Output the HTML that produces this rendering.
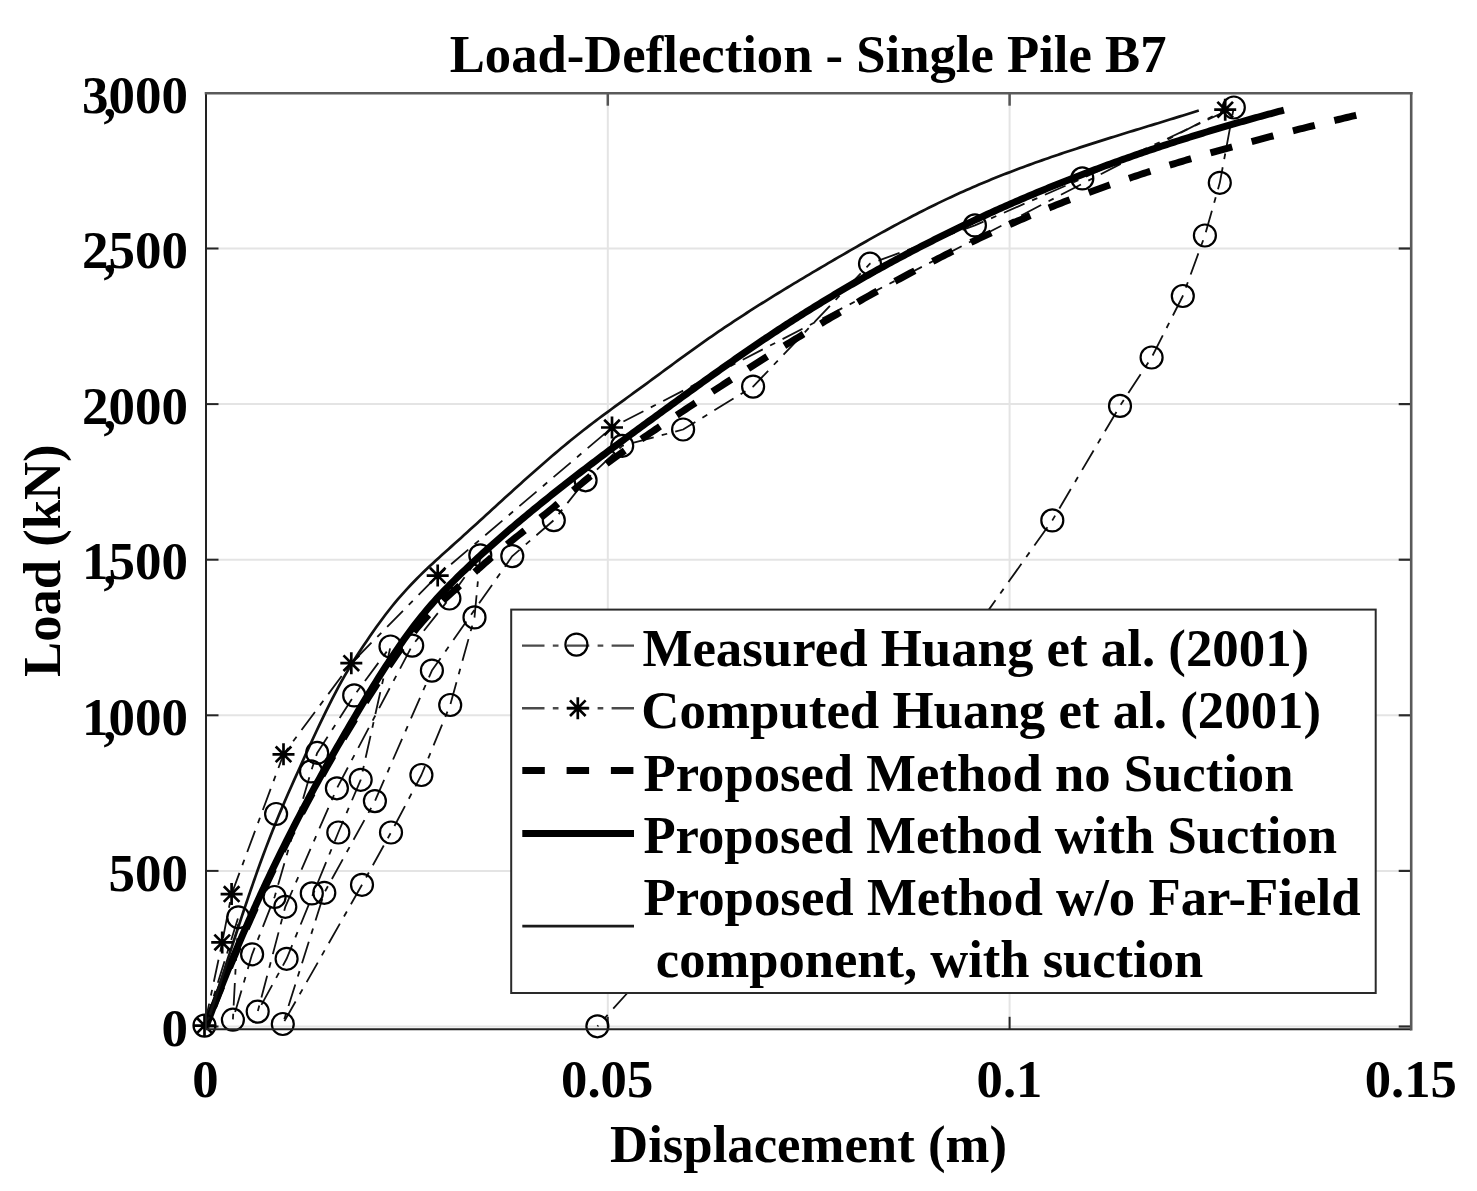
<!DOCTYPE html><html><head><meta charset="utf-8"><style>html,body{margin:0;padding:0;background:#fff}svg{display:block}text{font-family:"Liberation Serif",serif;font-weight:bold}</style></head><body><svg width="1477" height="1191" viewBox="0 0 1477 1191" font-family="Liberation Serif" font-weight="bold">
<rect width="1477" height="1191" fill="#fff"/>
<line x1="607.80" y1="93.2" x2="607.80" y2="1029.3" stroke="#e4e4e4" stroke-width="2"/>
<line x1="1009.60" y1="93.2" x2="1009.60" y2="1029.3" stroke="#e4e4e4" stroke-width="2"/>
<line x1="206.0" y1="1026.50" x2="1411.2" y2="1026.50" stroke="#e4e4e4" stroke-width="2"/>
<line x1="206.0" y1="870.90" x2="1411.2" y2="870.90" stroke="#e4e4e4" stroke-width="2"/>
<line x1="206.0" y1="715.30" x2="1411.2" y2="715.30" stroke="#e4e4e4" stroke-width="2"/>
<line x1="206.0" y1="559.70" x2="1411.2" y2="559.70" stroke="#e4e4e4" stroke-width="2"/>
<line x1="206.0" y1="404.10" x2="1411.2" y2="404.10" stroke="#e4e4e4" stroke-width="2"/>
<line x1="206.0" y1="248.50" x2="1411.2" y2="248.50" stroke="#e4e4e4" stroke-width="2"/>
<line x1="607.80" y1="1029.3" x2="607.80" y2="1016.8" stroke="#262626" stroke-width="2"/>
<line x1="607.80" y1="93.2" x2="607.80" y2="105.7" stroke="#555" stroke-width="2.5"/>
<line x1="1009.60" y1="1029.3" x2="1009.60" y2="1016.8" stroke="#262626" stroke-width="2"/>
<line x1="1009.60" y1="93.2" x2="1009.60" y2="105.7" stroke="#555" stroke-width="2.5"/>
<line x1="206.0" y1="1026.50" x2="218.5" y2="1026.50" stroke="#262626" stroke-width="2"/>
<line x1="1411.2" y1="1026.50" x2="1398.7" y2="1026.50" stroke="#2a2a2a" stroke-width="2.2"/>
<line x1="206.0" y1="870.90" x2="218.5" y2="870.90" stroke="#262626" stroke-width="2"/>
<line x1="1411.2" y1="870.90" x2="1398.7" y2="870.90" stroke="#2a2a2a" stroke-width="2.2"/>
<line x1="206.0" y1="715.30" x2="218.5" y2="715.30" stroke="#262626" stroke-width="2"/>
<line x1="1411.2" y1="715.30" x2="1398.7" y2="715.30" stroke="#2a2a2a" stroke-width="2.2"/>
<line x1="206.0" y1="559.70" x2="218.5" y2="559.70" stroke="#262626" stroke-width="2"/>
<line x1="1411.2" y1="559.70" x2="1398.7" y2="559.70" stroke="#2a2a2a" stroke-width="2.2"/>
<line x1="206.0" y1="404.10" x2="218.5" y2="404.10" stroke="#262626" stroke-width="2"/>
<line x1="1411.2" y1="404.10" x2="1398.7" y2="404.10" stroke="#2a2a2a" stroke-width="2.2"/>
<line x1="206.0" y1="248.50" x2="218.5" y2="248.50" stroke="#262626" stroke-width="2"/>
<line x1="1411.2" y1="248.50" x2="1398.7" y2="248.50" stroke="#2a2a2a" stroke-width="2.2"/>
<defs><clipPath id="ax"><rect x="206.0" y="93.2" width="1205.2" height="936.0999999999999"/></clipPath>
<g id="star"><path d="M-11,0H11M0,-11V11M-7.8,-7.8L7.8,7.8M-7.8,7.8L7.8,-7.8" stroke="#000" stroke-width="2.7" fill="none"/></g>
<circle id="circ" r="11" fill="none" stroke="#000" stroke-width="2.2"/></defs>
<g clip-path="url(#ax)" fill="none" stroke-linejoin="round">
<polyline points="204.5,1025.6 238.3,917.3 232.9,1019.7 252.1,954.3 274.6,897.0 311.0,771.4 317.2,752.9 354.2,695.4 390.5,646.5 360.7,779.8 338.3,832.5 286.6,958.8 257.7,1011.6 285.3,906.8 336.9,788.3 412.2,645.6 449.4,598.5 480.3,555.3 474.5,617.4 450.2,705.0 421.4,775.0 391.0,832.5 362.0,884.8 282.8,1024.0 324.3,892.8 374.9,801.1 431.9,670.6 512.3,556.1 553.8,520.2 585.6,480.3 622.2,445.8 683.1,429.5 753.1,386.6 870.0,263.7 974.9,225.4 1082.3,178.4 1233.8,107.5 1219.8,182.8 1204.9,235.5 1182.8,296.0 1151.6,357.5 1120.0,405.9 1052.3,520.4 960.0,650.2 660.0,956.8 597.4,1026.3" stroke="#111" stroke-width="1.8" stroke-dasharray="22.5 8.3 5.7 8.3"/>
<polyline points="204.5,1025.6 222.2,942.4 231.6,894.1 283.5,754.3 351.3,663.2 437.7,575.6 612.0,427.5 1225.2,109.7" stroke="#111" stroke-width="1.8" stroke-dasharray="22.5 8.3 5.7 8.3"/>
<path d="M206.00,1026.50 L206.75,1024.55 L207.50,1022.61 L208.25,1020.67 L209.00,1018.74 L209.75,1016.82 L210.50,1014.89 L211.25,1012.98 L212.00,1011.06 L212.75,1009.16 L213.50,1007.25 L214.25,1005.36 L215.00,1003.46 L215.75,1001.57 L216.50,999.69 L217.25,997.81 L218.00,995.94 L218.75,994.07 L219.50,992.20 L220.25,990.34 L221.00,988.48 L221.75,986.63 L222.50,984.79 L223.25,982.94 L224.00,981.11 L224.75,979.27 L225.50,977.45 L226.25,975.62 L227.00,973.80 L227.75,971.99 L228.50,970.18 L229.25,968.37 L230.00,966.57 L230.75,964.77 L231.50,962.98 L232.25,961.19 L233.00,959.41 L233.75,957.63 L234.50,955.86 L235.25,954.09 L236.00,952.32 L236.75,950.56 L237.50,948.80 L238.25,947.05 L239.00,945.30 L239.75,943.56 L240.50,941.82 L241.25,940.08 L242.00,938.35 L242.75,936.62 L243.50,934.90 L244.25,933.18 L245.00,931.47 L245.75,929.76 L246.50,928.05 L247.25,926.35 L248.00,924.65 L248.75,922.96 L249.50,921.27 L250.25,919.59 L251.00,917.91 L251.75,916.23 L252.50,914.56 L253.25,912.89 L254.00,911.22 L254.75,909.56 L255.50,907.91 L256.25,906.26 L257.00,904.61 L257.75,902.96 L258.50,901.32 L259.25,899.69 L260.00,898.05 L260.75,896.43 L261.50,894.80 L262.25,893.18 L263.00,891.57 L263.75,889.95 L264.50,888.34 L265.25,886.74 L266.00,885.14 L268.74,879.32 L271.49,873.55 L274.23,867.83 L276.97,862.16 L279.72,856.53 L282.46,850.96 L285.20,845.44 L287.94,839.96 L290.69,834.53 L293.43,829.14 L296.17,823.81 L298.92,818.51 L301.66,813.26 L304.40,808.06 L307.15,802.89 L309.89,797.77 L312.63,792.69 L315.38,787.66 L318.12,782.66 L320.86,777.70 L323.61,772.78 L326.35,767.90 L329.09,763.06 L331.83,758.26 L334.58,753.49 L337.32,748.76 L340.06,744.07 L342.81,739.41 L345.55,734.78 L348.29,730.19 L351.04,725.63 L353.78,721.11 L356.52,716.61 L359.27,712.15 L362.01,707.72 L364.75,703.32 L367.49,698.94 L370.24,694.60 L372.98,690.29 L375.72,686.00 L378.47,681.76 L381.21,677.55 L383.95,673.39 L386.70,669.27 L389.44,665.21 L392.18,661.19 L394.93,657.24 L397.67,653.35 L400.41,649.52 L403.16,645.77 L405.90,642.08 L408.64,638.48 L411.38,634.95 L414.13,631.51 L416.87,628.15 L419.61,624.89 L422.36,621.72 L425.10,618.65 L427.84,615.68 L430.59,612.79 L433.33,609.99 L436.07,607.26 L438.82,604.60 L441.56,601.99 L444.30,599.44 L447.05,596.92 L449.79,594.44 L452.53,591.98 L455.27,589.54 L458.02,587.10 L460.76,584.67 L463.50,582.23 L466.25,579.78 L468.99,577.33 L471.73,574.87 L474.48,572.41 L477.22,569.96 L479.96,567.52 L482.71,565.09 L485.45,562.67 L488.19,560.27 L490.93,557.89 L493.68,555.54 L496.42,553.21 L499.16,550.91 L501.91,548.64 L504.65,546.39 L507.39,544.16 L510.14,541.94 L512.88,539.75 L515.62,537.56 L518.37,535.38 L521.11,533.22 L523.85,531.05 L526.60,528.89 L529.34,526.73 L532.08,524.57 L534.82,522.40 L537.57,520.22 L540.31,518.03 L543.05,515.83 L545.80,513.61 L548.54,511.37 L551.28,509.12 L554.03,506.83 L556.77,504.53 L559.51,502.21 L562.26,499.88 L565.00,497.54 L567.74,495.19 L570.48,492.84 L573.23,490.50 L575.97,488.17 L578.71,485.86 L581.46,483.56 L584.20,481.29 L586.94,479.04 L589.69,476.82 L592.43,474.64 L595.17,472.47 L597.92,470.34 L600.66,468.23 L603.40,466.14 L606.15,464.08 L608.89,462.03 L611.63,460.01 L614.37,458.01 L617.12,456.02 L619.86,454.05 L622.60,452.10 L625.35,450.16 L628.09,448.23 L630.83,446.32 L633.58,444.42 L636.32,442.53 L639.06,440.65 L641.81,438.77 L644.55,436.90 L647.29,435.04 L650.04,433.18 L652.78,431.33 L655.52,429.48 L658.26,427.63 L661.01,425.78 L663.75,423.94 L666.49,422.09 L669.24,420.25 L671.98,418.42 L674.72,416.58 L677.47,414.75 L680.21,412.92 L682.95,411.09 L685.70,409.27 L688.44,407.45 L691.18,405.63 L693.92,403.82 L696.67,402.00 L699.41,400.19 L702.15,398.39 L704.90,396.59 L707.64,394.79 L710.38,392.99 L713.13,391.19 L715.87,389.40 L718.61,387.62 L721.36,385.83 L724.10,384.05 L726.84,382.27 L729.59,380.50 L732.33,378.73 L735.07,376.96 L737.81,375.20 L740.56,373.44 L743.30,371.68 L746.04,369.93 L748.79,368.18 L751.53,366.43 L754.27,364.69 L757.02,362.95 L759.76,361.22 L762.50,359.49 L765.25,357.76 L767.99,356.04 L770.73,354.32 L773.47,352.61 L776.22,350.90 L778.96,349.19 L781.70,347.49 L784.45,345.79 L787.19,344.10 L789.93,342.41 L792.68,340.73 L795.42,339.05 L798.16,337.37 L800.91,335.70 L803.65,334.03 L806.39,332.37 L809.14,330.71 L811.88,329.06 L814.62,327.41 L817.36,325.76 L820.11,324.12 L822.85,322.49 L825.59,320.86 L828.34,319.23 L831.08,317.61 L833.82,316.00 L836.57,314.39 L839.31,312.78 L842.05,311.18 L844.80,309.59 L847.54,308.00 L850.28,306.41 L853.03,304.83 L855.77,303.26 L858.51,301.69 L861.25,300.12 L864.00,298.56 L866.74,297.01 L869.48,295.46 L872.23,293.92 L874.97,292.38 L877.71,290.85 L880.46,289.33 L883.20,287.81 L885.94,286.29 L888.69,284.78 L891.43,283.28 L894.17,281.78 L896.91,280.29 L899.66,278.80 L902.40,277.33 L905.14,275.85 L907.89,274.38 L910.63,272.92 L913.37,271.47 L916.12,270.02 L918.86,268.57 L921.60,267.14 L924.35,265.70 L927.09,264.28 L929.83,262.86 L932.58,261.45 L935.32,260.04 L938.06,258.64 L940.80,257.25 L943.55,255.86 L946.29,254.48 L949.03,253.11 L951.78,251.74 L954.52,250.38 L957.26,249.03 L960.01,247.68 L962.75,246.34 L965.49,245.01 L968.24,243.69 L970.98,242.37 L973.72,241.05 L976.46,239.75 L979.21,238.45 L981.95,237.16 L984.69,235.87 L987.44,234.60 L990.18,233.33 L992.92,232.06 L995.67,230.81 L998.41,229.56 L1001.15,228.32 L1003.90,227.09 L1006.64,225.86 L1009.38,224.64 L1012.13,223.43 L1014.87,222.23 L1017.61,221.03 L1020.35,219.84 L1023.10,218.66 L1025.84,217.49 L1028.58,216.32 L1031.33,215.17 L1034.07,214.01 L1036.81,212.87 L1039.56,211.73 L1042.30,210.60 L1045.04,209.48 L1047.79,208.37 L1050.53,207.26 L1053.27,206.16 L1056.02,205.06 L1058.76,203.98 L1061.50,202.90 L1064.24,201.82 L1066.99,200.76 L1069.73,199.70 L1072.47,198.64 L1075.22,197.60 L1077.96,196.56 L1080.70,195.52 L1083.45,194.49 L1086.19,193.47 L1088.93,192.46 L1091.68,191.45 L1094.42,190.45 L1097.16,189.45 L1099.90,188.46 L1102.65,187.48 L1105.39,186.50 L1108.13,185.53 L1110.88,184.56 L1113.62,183.60 L1116.36,182.64 L1119.11,181.69 L1121.85,180.75 L1124.59,179.81 L1127.34,178.88 L1130.08,177.95 L1132.82,177.03 L1135.57,176.12 L1138.31,175.21 L1141.05,174.30 L1143.79,173.40 L1146.54,172.51 L1149.28,171.62 L1152.02,170.73 L1154.77,169.85 L1157.51,168.98 L1160.25,168.11 L1163.00,167.24 L1165.74,166.38 L1168.48,165.52 L1171.23,164.67 L1173.97,163.83 L1176.71,162.99 L1179.45,162.15 L1182.20,161.32 L1184.94,160.49 L1187.68,159.66 L1190.43,158.84 L1193.17,158.03 L1195.91,157.22 L1198.66,156.41 L1201.40,155.61 L1204.14,154.81 L1206.89,154.01 L1209.63,153.22 L1212.37,152.44 L1215.12,151.65 L1217.86,150.87 L1220.60,150.10 L1223.34,149.33 L1226.09,148.56 L1228.83,147.79 L1231.57,147.03 L1234.32,146.27 L1237.06,145.52 L1239.80,144.77 L1242.55,144.02 L1245.29,143.28 L1248.03,142.53 L1250.78,141.80 L1253.52,141.06 L1256.26,140.33 L1259.01,139.60 L1261.75,138.87 L1264.49,138.15 L1267.23,137.43 L1269.98,136.71 L1272.72,136.00 L1275.46,135.28 L1278.21,134.57 L1280.95,133.87 L1283.69,133.16 L1286.44,132.46 L1289.18,131.76 L1291.92,131.06 L1294.67,130.37 L1297.41,129.67 L1300.15,128.98 L1302.89,128.29 L1305.64,127.61 L1308.38,126.92 L1311.12,126.24 L1313.87,125.56 L1316.61,124.88 L1319.35,124.20 L1322.10,123.53 L1324.84,122.85 L1327.58,122.18 L1330.33,121.51 L1333.07,120.84 L1335.81,120.17 L1338.56,119.51 L1341.30,118.84 L1344.04,118.18 L1346.78,117.52 L1349.53,116.86 L1352.27,116.20 L1355.01,115.54 L1357.76,114.88 L1360.50,114.22" stroke="#000" stroke-width="7" stroke-dasharray="22.5 20.18" stroke-dashoffset="22.09"/>
<path d="M206.00,1026.50 L206.75,1024.49 L207.50,1022.48 L208.25,1020.48 L209.00,1018.48 L209.75,1016.49 L210.50,1014.51 L211.25,1012.53 L212.00,1010.56 L212.75,1008.60 L213.50,1006.64 L214.25,1004.69 L215.00,1002.74 L215.75,1000.80 L216.50,998.86 L217.25,996.93 L218.00,995.01 L218.75,993.09 L219.50,991.18 L220.25,989.28 L221.00,987.38 L221.75,985.48 L222.50,983.60 L223.25,981.71 L224.00,979.84 L224.75,977.97 L225.50,976.10 L226.25,974.24 L227.00,972.39 L227.75,970.54 L228.50,968.70 L229.25,966.86 L230.00,965.03 L230.75,963.20 L231.50,961.38 L232.25,959.56 L233.00,957.75 L233.75,955.95 L234.50,954.15 L235.25,952.35 L236.00,950.57 L236.75,948.78 L237.50,947.00 L238.25,945.23 L239.00,943.46 L239.75,941.70 L240.50,939.94 L241.25,938.19 L242.00,936.44 L242.75,934.70 L243.50,932.96 L244.25,931.23 L245.00,929.50 L245.75,927.78 L246.50,926.06 L247.25,924.35 L248.00,922.64 L248.75,920.94 L249.50,919.24 L250.25,917.55 L251.00,915.86 L251.75,914.17 L252.50,912.49 L253.25,910.82 L254.00,909.15 L254.75,907.49 L255.50,905.83 L256.25,904.17 L257.00,902.52 L257.75,900.87 L258.50,899.23 L259.25,897.59 L260.00,895.96 L260.75,894.33 L261.50,892.71 L262.25,891.09 L263.00,889.47 L263.75,887.86 L264.50,886.25 L265.25,884.65 L266.00,883.05 L268.55,877.65 L271.10,872.29 L273.65,866.98 L276.20,861.72 L278.76,856.50 L281.31,851.32 L283.86,846.19 L286.41,841.10 L288.96,836.05 L291.51,831.05 L294.06,826.08 L296.61,821.15 L299.16,816.25 L301.72,811.39 L304.27,806.57 L306.82,801.78 L309.37,797.03 L311.92,792.30 L314.47,787.61 L317.02,782.95 L319.57,778.32 L322.12,773.71 L324.68,769.13 L327.23,764.58 L329.78,760.05 L332.33,755.55 L334.88,751.07 L337.43,746.61 L339.98,742.18 L342.53,737.76 L345.08,733.36 L347.64,728.98 L350.19,724.62 L352.74,720.28 L355.29,715.95 L357.84,711.64 L360.39,707.36 L362.94,703.10 L365.49,698.87 L368.05,694.67 L370.60,690.50 L373.15,686.36 L375.70,682.25 L378.25,678.18 L380.80,674.15 L383.35,670.15 L385.90,666.20 L388.45,662.29 L391.01,658.43 L393.56,654.61 L396.11,650.84 L398.66,647.13 L401.21,643.46 L403.76,639.85 L406.31,636.29 L408.86,632.80 L411.41,629.36 L413.97,625.99 L416.52,622.67 L419.07,619.43 L421.62,616.25 L424.17,613.14 L426.72,610.09 L429.27,607.10 L431.82,604.16 L434.37,601.29 L436.93,598.46 L439.48,595.68 L442.03,592.95 L444.58,590.26 L447.13,587.60 L449.68,584.99 L452.23,582.41 L454.78,579.86 L457.33,577.33 L459.89,574.84 L462.44,572.36 L464.99,569.90 L467.54,567.46 L470.09,565.04 L472.64,562.64 L475.19,560.26 L477.74,557.89 L480.29,555.54 L482.85,553.21 L485.40,550.89 L487.95,548.59 L490.50,546.30 L493.05,544.02 L495.60,541.77 L498.15,539.52 L500.70,537.29 L503.25,535.07 L505.81,532.86 L508.36,530.67 L510.91,528.48 L513.46,526.31 L516.01,524.15 L518.56,522.00 L521.11,519.86 L523.66,517.72 L526.22,515.60 L528.77,513.48 L531.32,511.38 L533.87,509.28 L536.42,507.19 L538.97,505.11 L541.52,503.04 L544.07,500.98 L546.62,498.92 L549.18,496.88 L551.73,494.84 L554.28,492.80 L556.83,490.78 L559.38,488.76 L561.93,486.75 L564.48,484.75 L567.03,482.75 L569.58,480.76 L572.14,478.77 L574.69,476.79 L577.24,474.82 L579.79,472.86 L582.34,470.90 L584.89,468.94 L587.44,466.99 L589.99,465.05 L592.54,463.11 L595.10,461.17 L597.65,459.25 L600.20,457.32 L602.75,455.40 L605.30,453.49 L607.85,451.57 L610.40,449.67 L612.95,447.76 L615.50,445.86 L618.06,443.97 L620.61,442.08 L623.16,440.19 L625.71,438.30 L628.26,436.42 L630.81,434.54 L633.36,432.66 L635.91,430.78 L638.46,428.91 L641.02,427.04 L643.57,425.17 L646.12,423.30 L648.67,421.44 L651.22,419.57 L653.77,417.71 L656.32,415.85 L658.87,413.99 L661.42,412.13 L663.98,410.27 L666.53,408.41 L669.08,406.55 L671.63,404.70 L674.18,402.84 L676.73,400.99 L679.28,399.13 L681.83,397.28 L684.38,395.43 L686.94,393.58 L689.49,391.73 L692.04,389.88 L694.59,388.04 L697.14,386.20 L699.69,384.36 L702.24,382.52 L704.79,380.69 L707.35,378.86 L709.90,377.03 L712.45,375.21 L715.00,373.39 L717.55,371.57 L720.10,369.76 L722.65,367.95 L725.20,366.14 L727.75,364.34 L730.31,362.55 L732.86,360.76 L735.41,358.97 L737.96,357.19 L740.51,355.42 L743.06,353.65 L745.61,351.88 L748.16,350.12 L750.71,348.37 L753.27,346.62 L755.82,344.88 L758.37,343.15 L760.92,341.42 L763.47,339.70 L766.02,337.99 L768.57,336.29 L771.12,334.59 L773.67,332.90 L776.23,331.21 L778.78,329.53 L781.33,327.86 L783.88,326.20 L786.43,324.54 L788.98,322.89 L791.53,321.25 L794.08,319.62 L796.63,317.99 L799.19,316.37 L801.74,314.75 L804.29,313.14 L806.84,311.54 L809.39,309.95 L811.94,308.36 L814.49,306.78 L817.04,305.20 L819.59,303.64 L822.15,302.07 L824.70,300.52 L827.25,298.97 L829.80,297.43 L832.35,295.90 L834.90,294.37 L837.45,292.85 L840.00,291.33 L842.55,289.83 L845.11,288.32 L847.66,286.83 L850.21,285.34 L852.76,283.86 L855.31,282.38 L857.86,280.91 L860.41,279.45 L862.96,277.99 L865.52,276.54 L868.07,275.10 L870.62,273.66 L873.17,272.23 L875.72,270.81 L878.27,269.39 L880.82,267.97 L883.37,266.57 L885.92,265.17 L888.48,263.77 L891.03,262.39 L893.58,261.01 L896.13,259.63 L898.68,258.26 L901.23,256.90 L903.78,255.54 L906.33,254.19 L908.88,252.84 L911.44,251.51 L913.99,250.17 L916.54,248.85 L919.09,247.52 L921.64,246.21 L924.19,244.90 L926.74,243.60 L929.29,242.30 L931.84,241.01 L934.40,239.72 L936.95,238.44 L939.50,237.17 L942.05,235.90 L944.60,234.64 L947.15,233.38 L949.70,232.13 L952.25,230.88 L954.80,229.64 L957.36,228.41 L959.91,227.18 L962.46,225.96 L965.01,224.74 L967.56,223.53 L970.11,222.32 L972.66,221.12 L975.21,219.93 L977.76,218.74 L980.32,217.55 L982.87,216.37 L985.42,215.20 L987.97,214.03 L990.52,212.87 L993.07,211.71 L995.62,210.56 L998.17,209.41 L1000.72,208.27 L1003.28,207.14 L1005.83,206.01 L1008.38,204.88 L1010.93,203.76 L1013.48,202.65 L1016.03,201.54 L1018.58,200.43 L1021.13,199.34 L1023.68,198.24 L1026.24,197.15 L1028.79,196.07 L1031.34,194.99 L1033.89,193.92 L1036.44,192.85 L1038.99,191.78 L1041.54,190.73 L1044.09,189.67 L1046.65,188.62 L1049.20,187.58 L1051.75,186.54 L1054.30,185.51 L1056.85,184.48 L1059.40,183.46 L1061.95,182.44 L1064.50,181.42 L1067.05,180.41 L1069.61,179.41 L1072.16,178.41 L1074.71,177.41 L1077.26,176.42 L1079.81,175.44 L1082.36,174.46 L1084.91,173.48 L1087.46,172.51 L1090.01,171.54 L1092.57,170.58 L1095.12,169.62 L1097.67,168.67 L1100.22,167.72 L1102.77,166.78 L1105.32,165.84 L1107.87,164.90 L1110.42,163.97 L1112.97,163.04 L1115.53,162.12 L1118.08,161.21 L1120.63,160.29 L1123.18,159.38 L1125.73,158.48 L1128.28,157.58 L1130.83,156.69 L1133.38,155.79 L1135.93,154.91 L1138.49,154.02 L1141.04,153.15 L1143.59,152.27 L1146.14,151.40 L1148.69,150.54 L1151.24,149.68 L1153.79,148.82 L1156.34,147.97 L1158.89,147.12 L1161.45,146.27 L1164.00,145.43 L1166.55,144.59 L1169.10,143.76 L1171.65,142.93 L1174.20,142.11 L1176.75,141.29 L1179.30,140.47 L1181.85,139.66 L1184.41,138.85 L1186.96,138.04 L1189.51,137.24 L1192.06,136.44 L1194.61,135.65 L1197.16,134.86 L1199.71,134.08 L1202.26,133.29 L1204.82,132.51 L1207.37,131.74 L1209.92,130.97 L1212.47,130.20 L1215.02,129.44 L1217.57,128.68 L1220.12,127.92 L1222.67,127.17 L1225.22,126.42 L1227.78,125.68 L1230.33,124.93 L1232.88,124.20 L1235.43,123.46 L1237.98,122.73 L1240.53,122.00 L1243.08,121.28 L1245.63,120.56 L1248.18,119.84 L1250.74,119.13 L1253.29,118.41 L1255.84,117.71 L1258.39,117.00 L1260.94,116.30 L1263.49,115.61 L1266.04,114.91 L1268.59,114.22 L1271.14,113.53 L1273.70,112.85 L1276.25,112.17 L1278.80,111.49 L1281.35,110.82 L1283.90,110.15" stroke="#000" stroke-width="7"/>
<path d="M206.00,1026.50 L206.90,1023.77 L207.80,1021.03 L208.70,1018.28 L209.60,1015.53 L210.50,1012.77 L211.40,1010.01 L212.30,1007.25 L213.20,1004.48 L214.10,1001.71 L215.00,998.93 L215.90,996.16 L216.80,993.37 L217.70,990.59 L218.60,987.81 L219.50,985.02 L220.40,982.23 L221.30,979.45 L222.20,976.66 L223.10,973.87 L224.00,971.08 L224.90,968.30 L225.80,965.51 L226.70,962.72 L227.60,959.94 L228.50,957.16 L229.40,954.38 L230.30,951.60 L231.20,948.83 L232.10,946.06 L233.00,943.30 L233.90,940.53 L234.80,937.78 L235.70,935.02 L236.60,932.28 L237.50,929.54 L238.40,926.80 L239.30,924.07 L240.20,921.35 L241.10,918.63 L242.00,915.92 L242.90,913.22 L243.80,910.53 L244.70,907.84 L245.60,905.17 L246.50,902.50 L247.40,899.84 L248.30,897.19 L249.20,894.55 L250.10,891.93 L251.00,889.31 L251.90,886.70 L252.80,884.11 L253.70,881.52 L254.60,878.95 L255.50,876.40 L256.40,873.85 L257.30,871.32 L258.20,868.80 L259.10,866.29 L260.00,863.80 L263.14,855.23 L266.28,846.85 L269.42,838.68 L272.56,830.71 L275.70,822.93 L278.84,815.32 L281.98,807.87 L285.12,800.54 L288.26,793.33 L291.40,786.21 L294.54,779.17 L297.68,772.18 L300.82,765.22 L303.96,758.29 L307.10,751.39 L310.24,744.54 L313.38,737.74 L316.52,731.02 L319.66,724.37 L322.80,717.82 L325.94,711.38 L329.08,705.06 L332.22,698.87 L335.36,692.83 L338.49,686.93 L341.63,681.20 L344.77,675.64 L347.91,670.25 L351.05,665.05 L354.19,660.00 L357.33,655.09 L360.47,650.28 L363.61,645.55 L366.75,640.89 L369.89,636.29 L373.03,631.77 L376.17,627.33 L379.31,622.98 L382.45,618.71 L385.59,614.55 L388.73,610.48 L391.87,606.53 L395.01,602.68 L398.15,598.95 L401.29,595.33 L404.43,591.80 L407.57,588.36 L410.71,585.01 L413.85,581.74 L416.99,578.54 L420.13,575.41 L423.27,572.34 L426.41,569.32 L429.55,566.35 L432.69,563.42 L435.83,560.53 L438.97,557.66 L442.11,554.82 L445.25,552.00 L448.39,549.18 L451.53,546.37 L454.67,543.55 L457.81,540.73 L460.95,537.90 L464.09,535.06 L467.23,532.21 L470.37,529.36 L473.51,526.50 L476.65,523.64 L479.79,520.77 L482.93,517.90 L486.07,515.03 L489.21,512.16 L492.35,509.29 L495.48,506.43 L498.62,503.56 L501.76,500.70 L504.90,497.84 L508.04,494.98 L511.18,492.14 L514.32,489.29 L517.46,486.46 L520.60,483.64 L523.74,480.82 L526.88,478.01 L530.02,475.22 L533.16,472.44 L536.30,469.67 L539.44,466.91 L542.58,464.17 L545.72,461.45 L548.86,458.74 L552.00,456.05 L555.14,453.37 L558.28,450.72 L561.42,448.09 L564.56,445.48 L567.70,442.89 L570.84,440.32 L573.98,437.78 L577.12,435.26 L580.26,432.77 L583.40,430.30 L586.54,427.85 L589.68,425.43 L592.82,423.03 L595.96,420.65 L599.10,418.29 L602.24,415.94 L605.38,413.61 L608.52,411.29 L611.66,408.97 L614.80,406.67 L617.94,404.38 L621.08,402.09 L624.22,399.81 L627.36,397.52 L630.50,395.24 L633.64,392.96 L636.78,390.68 L639.92,388.39 L643.06,386.09 L646.20,383.79 L649.34,381.49 L652.47,379.18 L655.61,376.87 L658.75,374.55 L661.89,372.24 L665.03,369.92 L668.17,367.61 L671.31,365.30 L674.45,363.00 L677.59,360.70 L680.73,358.40 L683.87,356.12 L687.01,353.84 L690.15,351.57 L693.29,349.31 L696.43,347.06 L699.57,344.83 L702.71,342.61 L705.85,340.40 L708.99,338.21 L712.13,336.04 L715.27,333.88 L718.41,331.73 L721.55,329.60 L724.69,327.48 L727.83,325.38 L730.97,323.28 L734.11,321.20 L737.25,319.13 L740.39,317.08 L743.53,315.04 L746.67,313.00 L749.81,310.98 L752.95,308.97 L756.09,306.97 L759.23,304.98 L762.37,303.00 L765.51,301.03 L768.65,299.07 L771.79,297.12 L774.93,295.18 L778.07,293.24 L781.21,291.32 L784.35,289.40 L787.49,287.49 L790.63,285.59 L793.77,283.69 L796.91,281.80 L800.05,279.92 L803.19,278.04 L806.33,276.17 L809.46,274.30 L812.60,272.44 L815.74,270.58 L818.88,268.73 L822.02,266.88 L825.16,265.04 L828.30,263.20 L831.44,261.36 L834.58,259.53 L837.72,257.70 L840.86,255.87 L844.00,254.05 L847.14,252.24 L850.28,250.43 L853.42,248.62 L856.56,246.82 L859.70,245.03 L862.84,243.24 L865.98,241.46 L869.12,239.69 L872.26,237.93 L875.40,236.17 L878.54,234.42 L881.68,232.68 L884.82,230.95 L887.96,229.23 L891.10,227.51 L894.24,225.81 L897.38,224.12 L900.52,222.43 L903.66,220.76 L906.80,219.10 L909.94,217.45 L913.08,215.81 L916.22,214.18 L919.36,212.57 L922.50,210.97 L925.64,209.38 L928.78,207.80 L931.92,206.24 L935.06,204.69 L938.20,203.16 L941.34,201.64 L944.48,200.13 L947.62,198.64 L950.76,197.17 L953.90,195.71 L957.04,194.27 L960.18,192.84 L963.32,191.43 L966.45,190.03 L969.59,188.65 L972.73,187.28 L975.87,185.93 L979.01,184.59 L982.15,183.27 L985.29,181.96 L988.43,180.66 L991.57,179.37 L994.71,178.10 L997.85,176.84 L1000.99,175.59 L1004.13,174.36 L1007.27,173.13 L1010.41,171.92 L1013.55,170.72 L1016.69,169.53 L1019.83,168.35 L1022.97,167.18 L1026.11,166.02 L1029.25,164.87 L1032.39,163.73 L1035.53,162.60 L1038.67,161.48 L1041.81,160.37 L1044.95,159.27 L1048.09,158.17 L1051.23,157.09 L1054.37,156.01 L1057.51,154.94 L1060.65,153.87 L1063.79,152.82 L1066.93,151.77 L1070.07,150.72 L1073.21,149.69 L1076.35,148.66 L1079.49,147.63 L1082.63,146.61 L1085.77,145.60 L1088.91,144.59 L1092.05,143.59 L1095.19,142.59 L1098.33,141.59 L1101.47,140.60 L1104.61,139.61 L1107.75,138.63 L1110.89,137.65 L1114.03,136.67 L1117.17,135.70 L1120.31,134.73 L1123.44,133.76 L1126.58,132.79 L1129.72,131.82 L1132.86,130.86 L1136.00,129.90 L1139.14,128.93 L1142.28,127.97 L1145.42,127.01 L1148.56,126.05 L1151.70,125.09 L1154.84,124.13 L1157.98,123.17 L1161.12,122.21 L1164.26,121.24 L1167.40,120.28 L1170.54,119.31 L1173.68,118.34 L1176.82,117.37 L1179.96,116.40 L1183.10,115.43 L1186.24,114.45 L1189.38,113.47 L1192.52,112.48 L1195.66,111.49 L1198.80,110.50" stroke="#111" stroke-width="2.7"/>
</g>
<use href="#circ" x="204.5" y="1025.6"/>
<use href="#circ" x="238.3" y="917.3"/>
<use href="#circ" x="232.9" y="1019.7"/>
<use href="#circ" x="252.1" y="954.3"/>
<use href="#circ" x="274.6" y="897.0"/>
<use href="#circ" x="311.0" y="771.4"/>
<use href="#circ" x="317.2" y="752.9"/>
<use href="#circ" x="354.2" y="695.4"/>
<use href="#circ" x="390.5" y="646.5"/>
<use href="#circ" x="360.7" y="779.8"/>
<use href="#circ" x="338.3" y="832.5"/>
<use href="#circ" x="286.6" y="958.8"/>
<use href="#circ" x="257.7" y="1011.6"/>
<use href="#circ" x="285.3" y="906.8"/>
<use href="#circ" x="336.9" y="788.3"/>
<use href="#circ" x="412.2" y="645.6"/>
<use href="#circ" x="449.4" y="598.5"/>
<use href="#circ" x="480.3" y="555.3"/>
<use href="#circ" x="474.5" y="617.4"/>
<use href="#circ" x="450.2" y="705.0"/>
<use href="#circ" x="421.4" y="775.0"/>
<use href="#circ" x="391.0" y="832.5"/>
<use href="#circ" x="362.0" y="884.8"/>
<use href="#circ" x="282.8" y="1024.0"/>
<use href="#circ" x="324.3" y="892.8"/>
<use href="#circ" x="374.9" y="801.1"/>
<use href="#circ" x="431.9" y="670.6"/>
<use href="#circ" x="512.3" y="556.1"/>
<use href="#circ" x="553.8" y="520.2"/>
<use href="#circ" x="585.6" y="480.3"/>
<use href="#circ" x="622.2" y="445.8"/>
<use href="#circ" x="683.1" y="429.5"/>
<use href="#circ" x="753.1" y="386.6"/>
<use href="#circ" x="870" y="263.7"/>
<use href="#circ" x="974.9" y="225.4"/>
<use href="#circ" x="1082.3" y="178.4"/>
<use href="#circ" x="1233.8" y="107.5"/>
<use href="#circ" x="1219.8" y="182.8"/>
<use href="#circ" x="1204.9" y="235.5"/>
<use href="#circ" x="1182.8" y="296.0"/>
<use href="#circ" x="1151.6" y="357.5"/>
<use href="#circ" x="1120.0" y="405.9"/>
<use href="#circ" x="1052.3" y="520.4"/>
<use href="#circ" x="597.4" y="1026.3"/>
<use href="#circ" x="311.8" y="893.4"/>
<use href="#circ" x="276.1" y="814.0"/>
<use href="#star" x="204.5" y="1025.6"/>
<use href="#star" x="222.2" y="942.4"/>
<use href="#star" x="231.6" y="894.1"/>
<use href="#star" x="283.5" y="754.3"/>
<use href="#star" x="351.3" y="663.2"/>
<use href="#star" x="437.7" y="575.6"/>
<use href="#star" x="612" y="427.5"/>
<use href="#star" x="1225.2" y="109.7"/>
<line x1="206.0" y1="1029.3" x2="1411.2" y2="1029.3" stroke="#222" stroke-width="2"/>
<line x1="206.0" y1="93.2" x2="206.0" y2="1029.3" stroke="#222" stroke-width="2"/>
<line x1="206.0" y1="93.2" x2="1411.2" y2="93.2" stroke="#5a5a5a" stroke-width="2.6" stroke-linecap="square"/>
<line x1="1411.2" y1="93.2" x2="1411.2" y2="1029.3" stroke="#5a5a5a" stroke-width="2.6" stroke-linecap="square"/>
<rect x="511.2" y="609.6" width="864.5" height="383.4" fill="#fff" stroke="#2a2a2a" stroke-width="2"/>
<line x1="522" y1="645.6" x2="634" y2="645.6" stroke="#4a4a4a" stroke-width="2.4" stroke-dasharray="22.5 8.3 5.7 8.3"/>
<use href="#circ" x="576.4" y="644.6"/>
<line x1="522" y1="708.2" x2="634" y2="708.2" stroke="#4a4a4a" stroke-width="2.4" stroke-dasharray="22.5 8.3 5.7 8.3"/>
<use href="#star" x="577.8" y="708.2"/>
<line x1="522.3" y1="770.6" x2="634" y2="770.6" stroke="#000" stroke-width="7" stroke-dasharray="22.5 21.8"/>
<line x1="522.3" y1="833.4" x2="634" y2="833.4" stroke="#000" stroke-width="7"/>
<line x1="522.3" y1="926.2" x2="634" y2="926.2" stroke="#1a1a1a" stroke-width="2.8"/>
<text transform="translate(642.57,666.00) scale(0.9875,1)" font-size="53.5" >Measured Huang et al. (2001)</text>
<text transform="translate(641.36,727.80) scale(0.9882,1)" font-size="53.5" >Computed Huang et al. (2001)</text>
<text transform="translate(643.47,790.70) scale(0.9843,1)" font-size="53.5" >Proposed Method no Suction</text>
<text transform="translate(643.47,853.00) scale(0.9840,1)" font-size="53.5" >Proposed Method with Suction</text>
<text transform="translate(643.47,915.40) scale(0.9870,1)" font-size="53.5" >Proposed Method w/o Far-Field</text>
<text transform="translate(655.82,976.50) scale(0.9825,1)" font-size="53.5" >component, with suction</text>
<text transform="translate(82.06,112.50) scale(0.9900,1)" font-size="53.5" >3000</text>
<text x="103.4" y="116.30" font-size="50">,</text>
<text transform="translate(82.06,268.10) scale(0.9900,1)" font-size="53.5" >2500</text>
<text x="103.4" y="271.90" font-size="50">,</text>
<text transform="translate(82.06,423.70) scale(0.9900,1)" font-size="53.5" >2000</text>
<text x="103.4" y="427.50" font-size="50">,</text>
<text transform="translate(82.06,579.30) scale(0.9900,1)" font-size="53.5" >1500</text>
<text x="103.4" y="583.10" font-size="50">,</text>
<text transform="translate(82.06,734.90) scale(0.9900,1)" font-size="53.5" >1000</text>
<text x="103.4" y="738.70" font-size="50">,</text>
<text transform="translate(108.54,890.50) scale(0.9900,1)" font-size="53.5" >500</text>
<text transform="translate(161.51,1046.10) scale(0.9900,1)" font-size="53.5" >0</text>
<text transform="translate(192.23,1097.30) scale(0.9850,1)" font-size="53.5" >0</text>
<text transform="translate(561.09,1097.30) scale(0.9850,1)" font-size="53.5" >0.05</text>
<text transform="translate(976.59,1097.30) scale(0.9850,1)" font-size="53.5" >0.1</text>
<text transform="translate(1364.69,1097.30) scale(0.9850,1)" font-size="53.5" >0.15</text>
<text transform="translate(610.07,1161.60) scale(0.9861,1)" font-size="53.5" >Displacement (m)</text>
<text transform="translate(449.67,72.20) scale(0.9847,1)" font-size="53.5" >Load-Deflection - Single Pile B7</text>
<g transform="translate(60.2,676.93) rotate(-90)"><text transform="scale(0.9833,1)" font-size="53.5">Load (kN)</text></g>
</svg></body></html>
